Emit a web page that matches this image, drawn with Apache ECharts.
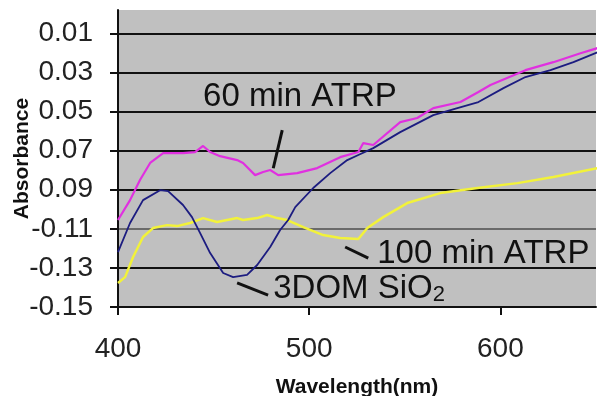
<!DOCTYPE html>
<html>
<head>
<meta charset="utf-8">
<script src="https://cdn.jsdelivr.net/npm/echarts@6/dist/echarts.min.js"></script>
<style>
html,body{margin:0;padding:0;background:#fff;}
#chart{width:597px;height:396px;}
</style>
</head>
<body>
<div id="chart"></div>
<script>
// ---- data ----
var wl60 = [400, 406.3, 411.5, 416.8, 423.6, 434.0, 440.3, 444.5, 448.2, 453.4, 462.3, 465.4, 471.7, 475.9, 479.6, 483.8, 493.7, 504.2, 516.2, 525.7, 528.3, 533.5, 547.6, 556.5, 564.9, 579.1, 588.5, 594.8, 613.1, 627.7, 641.9, 650.8];
var abs60 = [-0.1055, -0.0953, -0.0850, -0.0763, -0.0712, -0.0712, -0.0707, -0.0676, -0.0707, -0.0728, -0.0748, -0.0763, -0.0825, -0.0809, -0.0799, -0.0825, -0.0815, -0.0789, -0.0733, -0.0707, -0.0661, -0.0671, -0.0554, -0.0533, -0.0482, -0.0451, -0.0400, -0.0364, -0.0288, -0.0247, -0.0201, -0.0175];

var wl3dom = [400, 406.3, 413.1, 422.0, 426.2, 434.0, 438.7, 442.9, 448.2, 455.0, 460.2, 467.5, 472.8, 479.6, 484.8, 489.0, 492.7, 502.1, 511.0, 519.9, 525.7, 533.5, 547.6, 564.9, 577.5, 588.5, 601.6, 613.1, 626.2, 638.2, 650.8];
var abs3dom = [-0.1219, -0.1070, -0.0953, -0.0902, -0.0907, -0.0978, -0.1040, -0.1121, -0.1224, -0.1326, -0.1347, -0.1336, -0.1285, -0.1193, -0.1106, -0.1055, -0.0989, -0.0891, -0.0815, -0.0748, -0.0722, -0.0687, -0.0605, -0.0518, -0.0482, -0.0451, -0.0380, -0.0323, -0.0288, -0.0247, -0.0196];

var wl100 = [400, 403.7, 407.9, 413.1, 418.3, 425.7, 430.9, 437.7, 444.5, 451.8, 462.3, 465.4, 472.8, 478.0, 483.2, 488.5, 496.9, 507.3, 516.2, 525.7, 530.4, 538.7, 551.3, 568.6, 588.0, 608.9, 627.7, 650.8];
var abs100 = [-0.1377, -0.1347, -0.1244, -0.1142, -0.1096, -0.1081, -0.1086, -0.1070, -0.1045, -0.1065, -0.1045, -0.1055, -0.1045, -0.1029, -0.1045, -0.1055, -0.1091, -0.1132, -0.1147, -0.1152, -0.1096, -0.1040, -0.0968, -0.0917, -0.0891, -0.0866, -0.0835, -0.0789];

var yTickLabels = ['-0.15', '-0.13', '-0.11', '0.09', '0.07', '0.05', '0.03', '0.01'];
var xTickLabels = ['400', '500', '600'];

// annotations: text anchor (data coords) and leader line (data coords)
var annotations = [
  {text: '60 min ATRP', at: [444.5, -0.0426], line: [[485.9, -0.0595], [481.2, -0.0790]]},
  {text: '100 min ATRP', at: [535.6, -0.1226], line: [[518.8, -0.1193], [530.9, -0.1250]]},
  {text: '3DOM SiO{sub|2}', at: [481.2, -0.1408], line: [[462.3, -0.1377], [478.5, -0.1439]]}
];

function zip(a, b) { return a.map(function (v, i) { return [v, b[i]]; }); }

var chart = echarts.init(document.getElementById('chart'), null, {renderer: 'canvas'});
// split lines drawn from -0.13 upward
var gridLineColors = ['#111', '#6a6a6a', '#111', '#111', '#111', '#111', '#111', '#111'];

var option = {
  animation: false,
  backgroundColor: '#ffffff',
  grid: {left: 118, right: 1, top: 10, bottom: 89, show: true, backgroundColor: '#c0c0c0', borderWidth: 0,
         containLabel: false, outerBoundsMode: 'none'},
  xAxis: {
    type: 'value', min: 400, max: 650, interval: 100,
    name: 'Wavelength(nm)', nameLocation: 'middle', nameGap: 70, nameMoveOverlap: false,
    nameTextStyle: {fontFamily: 'Liberation Sans', fontWeight: 'bold', fontSize: 21, color: '#111'},
    axisLine: {show: true, onZero: false, lineStyle: {color: '#111', width: 2}},
    axisTick: {show: true, length: 8, lineStyle: {color: '#111', width: 2}},
    axisLabel: {
      margin: 28, fontFamily: 'Liberation Sans', fontSize: 28, color: '#222',
      showMaxLabel: false,
      formatter: function (v) { var i = Math.round((v - 400) / 100); return xTickLabels[i] || ''; }
    },
    splitLine: {show: false}
  },
  yAxis: {
    type: 'value', min: -0.15, max: 0.002, interval: 0.02,
    name: 'Absorbance', nameLocation: 'middle', nameGap: 85, nameRotate: 90, nameMoveOverlap: false,
    nameTextStyle: {fontFamily: 'Liberation Sans', fontWeight: 'bold', fontSize: 21, color: '#111'},
    axisLine: {show: true, onZero: false, lineStyle: {color: '#111', width: 2}},
    axisTick: {show: true, length: 8, lineStyle: {color: '#111', width: 2}},
    axisLabel: {
      margin: 25, fontFamily: 'Liberation Sans', fontSize: 28, color: '#222',
      showMaxLabel: false,
      formatter: function (v) { var i = Math.round((v + 0.15) / 0.02); if (Math.abs(v - (-0.15 + i * 0.02)) > 1e-6) return ''; return yTickLabels[i] || ''; }
    },
    splitLine: {show: true, showMinLine: false, showMaxLine: false, lineStyle: {color: gridLineColors, width: 2}}
  },
  series: [
    {name: '100 min ATRP', type: 'line', data: zip(wl100, abs100), showSymbol: false, symbol: 'none',
     lineStyle: {color: '#f2f23a', width: 2.5}, z: 3},
    {name: '60 min ATRP', type: 'line', data: zip(wl60, abs60), showSymbol: false, symbol: 'none',
     lineStyle: {color: '#e030e0', width: 2.2}, z: 4},
    {name: '3DOM SiO2', type: 'line', data: zip(wl3dom, abs3dom), showSymbol: false, symbol: 'none',
     lineStyle: {color: '#1c1c80', width: 1.8}, z: 5,
     markLine: {
       silent: true, symbol: 'none', animation: false, label: {show: false},
       lineStyle: {color: '#111', width: 3, type: 'solid'},
       data: annotations.map(function (a) { return [{coord: a.line[0]}, {coord: a.line[1]}]; })
     }}
  ]
};
chart.setOption(option);

var graphics = annotations.map(function (a) {
  var p = chart.convertToPixel({gridIndex: 0}, a.at);
  return {
    type: 'text', x: p[0], y: p[1], z: 100,
    style: {
      text: a.text, fontFamily: 'Liberation Sans', fontSize: 33, fill: '#111',
      align: 'left', verticalAlign: 'middle',
      rich: {sub: {fontFamily: 'Liberation Sans', fontSize: 22, fill: '#111', padding: [12, 0, 0, 0]}}
    }
  };
});
chart.setOption({graphic: graphics});
</script>
</body>
</html>
